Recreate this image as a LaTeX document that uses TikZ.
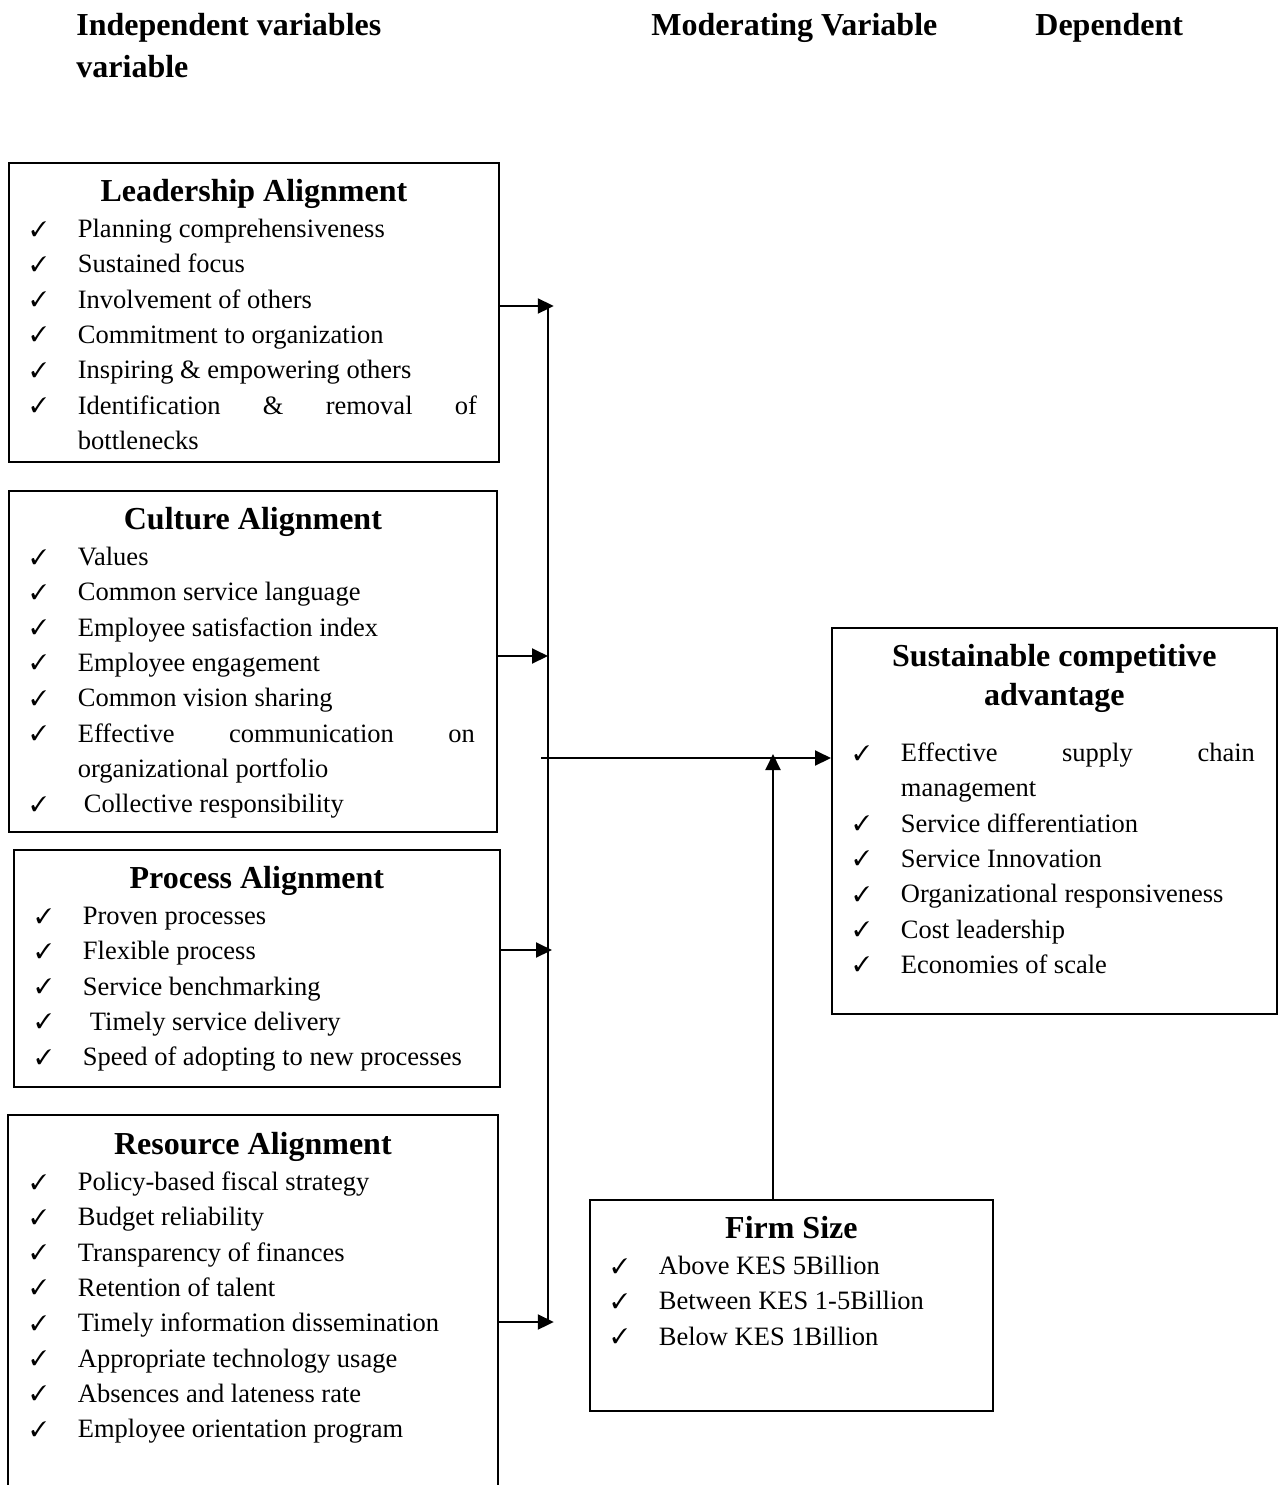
\documentclass[tikz,border=0pt]{standalone}
\usepackage{fontspec}
\setmainfont{Liberation Serif}
\usepackage{pifont}
\usetikzlibrary{arrows.meta}
\sloppy
\hbadness=10000
\vbadness=10000
\hyphenpenalty=10000
\exhyphenpenalty=10000

% check-mark items and box contents
\newcommand{\chk}{\raisebox{0.8pt}{\fontsize{10.5pt}{10.5pt}\selectfont\ding{51}}}
\newcommand{\tick}[1]{\par\noindent\hangindent=23.5pt\hangafter=1\makebox[23.5pt][l]{\chk}#1}
\newcommand{\boxhead}[1]{{\centering\fontsize{16pt}{19.5pt}\selectfont\bfseries\rule{0pt}{19.5pt}#1\par}\vspace{0.2pt}}
\newcommand{\boxbody}[3]{\begin{minipage}[t][#2][t]{#1}\fontsize{13.25pt}{17.65pt}\selectfont#3\end{minipage}}

\tikzset{
  varbox/.style={draw, line width=0.9pt, anchor=north west, inner xsep=11pt, inner ysep=0pt},
  hdr/.style={anchor=base west, inner sep=0pt, font=\fontsize{16pt}{19pt}\selectfont\bfseries},
  arr/.style={-{Triangle[length=8pt,width=7.5pt]}, line width=1pt},
  bus/.style={line width=1pt},
}

\begin{document}
\begin{tikzpicture}[x=0.5pt,y=-0.5pt]
\useasboundingbox (0,0) rectangle (1282,1485);

% headings
\node[hdr] (hdr-ind) at (76,35) {Independent variables};
\node[hdr] (hdr-mod) at (651,35) {Moderating Variable};
\node[hdr] (hdr-dep) at (1035,35) {Dependent};
\node[hdr] (hdr-var) at (76,77) {variable};

% independent variables
\node[varbox] (lead) at (8,162) {\boxbody{223pt}{149.5pt}{%
  \boxhead{Leadership Alignment}%
  \tick{Planning comprehensiveness}
  \tick{Sustained focus}
  \tick{Involvement of others}
  \tick{Commitment to organization}
  \tick{Inspiring \& empowering others}
  \tick{Identification \& removal of bottlenecks}}};

\node[varbox] (cul) at (8,490) {\boxbody{222pt}{170.5pt}{%
  \boxhead{Culture Alignment}%
  \tick{Values}
  \tick{Common service language}
  \tick{Employee satisfaction index}
  \tick{Employee engagement}
  \tick{Common vision sharing}
  \tick{Effective communication on organizational portfolio}
  \tick{\hspace{3pt}Collective responsibility}}};

\node[varbox] (proc) at (13,849) {\boxbody{221pt}{118.5pt}{%
  \boxhead{Process Alignment}%
  \tick{Proven processes}
  \tick{Flexible process}
  \tick{Service benchmarking}
  \tick{\hspace{3.5pt}Timely service delivery}
  \tick{Speed of adopting to new processes}}};

\node[varbox, draw=none] (res) at (8,1115) {\boxbody{222pt}{185pt}{%
  \boxhead{Resource Alignment}%
  \tick{Policy-based fiscal strategy}
  \tick{Budget reliability}
  \tick{Transparency of finances}
  \tick{Retention of talent}
  \tick{Timely information dissemination}
  \tick{Appropriate technology usage}
  \tick{Absences and lateness rate}
  \tick{Employee orientation program}}};
\draw[line width=0.9pt] (res.south west) -- (res.north west) -- (res.north east) -- (res.south east);

% dependent variable
\node[varbox] (sca) at (831,627) {\boxbody{200.5pt}{193pt}{%
  \boxhead{Sustainable competitive\\advantage}%
  \vspace{10pt}%
  \tick{Effective supply chain management}
  \tick{Service differentiation}
  \tick{Service Innovation}
  \tick{Organizational responsiveness}
  \tick{Cost leadership}
  \tick{Economies of scale}}};

% moderating variable
\node[varbox] (firm) at (589,1199) {\boxbody{179.5pt}{105.5pt}{%
  \boxhead{Firm Size}%
  \tick{Above KES 5Billion}
  \tick{Between KES 1-5Billion}
  \tick{Below KES 1Billion}}};

% connectors
\coordinate (bus-top) at (548,306);
\coordinate (bus-bot) at (548,1322);
\coordinate (cul-in) at (548,656);
\coordinate (proc-in) at (552,950);
\coordinate (hub) at (541,758);
\coordinate (mod-in) at (773,754);

\draw[bus] (bus-top) -- (bus-bot);
\draw[arr] (lead.east |- bus-top) -- ++(54,0);
\draw[arr] (cul.east |- cul-in) -- (cul-in);
\draw[arr] (proc.east |- proc-in) -- (proc-in);
\draw[arr] (res.east |- bus-bot) -- ++(56,0);
\draw[arr] (hub) -- (sca.west |- hub);
\draw[arr] (firm.north -| mod-in) -- (mod-in);
\end{tikzpicture}
\end{document}
